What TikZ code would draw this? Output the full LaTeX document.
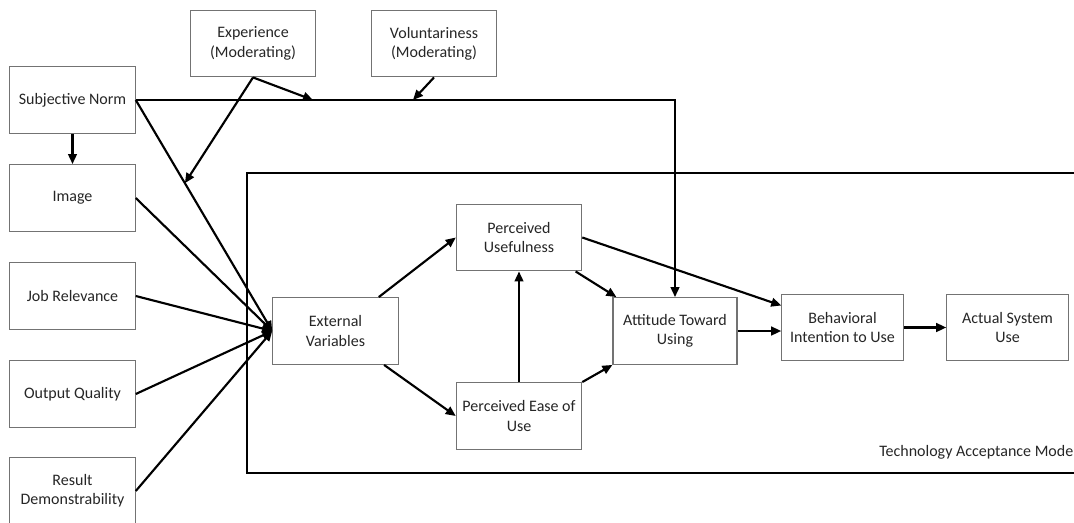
\documentclass[tikz,border=0pt]{standalone}
\usepackage{fontspec}
\setmainfont{Carlito}
\usetikzlibrary{arrows.meta,calc}
\begin{document}
\begin{tikzpicture}[x=0.75pt,y=-0.75pt,
  box/.style={draw=black!55, line width=0.9pt, fill=white, align=center,
    inner sep=0pt, minimum width=94pt, minimum height=50pt,
    text=black!85, font=\fontsize{12}{14.5}\selectfont},
  link/.style={line width=1.6pt, -{Triangle[length=7.5pt,width=6.5pt]}},
  frame/.style={line width=2pt},
  caption/.style={text=black!85, font=\fontsize{12}{14.5}\selectfont, inner sep=0pt}]
\useasboundingbox (0,0) rectangle (1074,522);
\clip (0,0) rectangle (1074,522);

% TAM frame (continues past the right edge)
\draw[frame] (247,173) rectangle (1100,473);
\node[caption, anchor=west] (tamlabel) at (879,452) {Technology Acceptance Mode};

% external factors
\node[box] (sn)  at (72.5,100) {Subjective Norm};
\node[box] (img) at (72.5,198) {Image};
\node[box] (jr)  at (72.5,296) {Job Relevance};
\node[box] (oq)  at (72.5,394) {Output Quality};
\node[box] (rd)  at (72.5,491) {Result\\Demonstrability};

% moderators
\node[box] (exp) at (253,43.5) {Experience\\(Moderating)};
\node[box] (vol) at (434,43.5) {Voluntariness\\(Moderating)};

% TAM core
\node[box] (ext)  at (335.5,331) {External\\Variables};
\node[box] (pu)   at (519,237.5) {Perceived\\Usefulness};
\node[box] (peou) at (519,416)   {Perceived Ease of\\Use};
\node[box, minimum width=93pt] (atu) at (675,331) {Attitude Toward\\Using};
\node[box, minimum width=91pt] (bi)  at (842.5,327.5) {Behavioral\\Intention to Use};
\node[box, minimum width=91pt] (asu) at (1007.5,327.5) {Actual System\\Use};

% subjective norm to attitude, and the moderated points
\coordinate (snturn) at (sn.east -| atu.north);
\draw[link] (sn.east) -- (snturn) -- (atu.north);
\coordinate (expon) at (313,100);
\coordinate (volon) at (413,100);
\coordinate (diagon) at ($(sn.east)!0.36!(ext.west)$);

\draw[link] (sn.south) -- (img.north);

% inputs into external variables
\draw[link] (sn.east)  -- (ext.west);
\draw[link] (img.east) -- (ext.west);
\draw[link] (jr.east)  -- (ext.west);
\draw[link] (oq.east)  -- (ext.west);
\draw[link] (rd.east)  -- (ext.west);

% moderating effects
\draw[link] (exp.south) -- (expon);
\draw[link] (exp.south) -- (diagon);
\draw[link] (vol.south) -- (volon);

% TAM relations
\draw[link] ([xshift=-15pt]ext.north east) -- (pu.west);
\draw[link] ([xshift=-11pt]ext.south east) -- (peou.west);
\draw[link] (peou.north) -- (pu.south);
\draw[link] ([xshift=-5pt]pu.south east) -- ([xshift=3pt]atu.north west);
\draw[link] (peou.north east) -- (atu.south west);
\draw[link] (pu.east) -- ([yshift=16.5pt]bi.west);
\draw[link] (atu.east) -- (atu.east -| bi.west);
\draw[link] (bi.east) -- (asu.west);
\end{tikzpicture}
\end{document}
